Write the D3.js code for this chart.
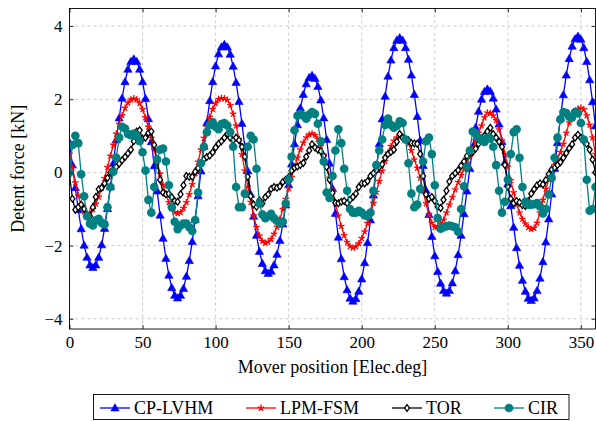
<!DOCTYPE html>
<html><head><meta charset="utf-8">
<script src="https://cdn.jsdelivr.net/npm/d3@7"></script>
<style>
body{margin:0;background:#fff}
svg text{font-family:"Liberation Serif","Times New Roman",serif !important;fill:#000}
</style>
</head><body>
<svg id="chart" width="596" height="421"></svg>
<script>
// ---------- data ----------
const positions = [0,2,4,6,8,10,12,14,16,18,20,22,24,26,28,30,32,34,36,38,40,42,44,46,48,50,52,54,56,58,60,62,64,66,68,70,72,74,76,78,80,82,84,86,88,90,92,94,96,98,100,102,104,106,108,110,112,114,116,118,120,122,124,126,128,130,132,134,136,138,140,142,144,146,148,150,152,154,156,158,160,162,164,166,168,170,172,174,176,178,180,182,184,186,188,190,192,194,196,198,200,202,204,206,208,210,212,214,216,218,220,222,224,226,228,230,232,234,236,238,240,242,244,246,248,250,252,254,256,258,260,262,264,266,268,270,272,274,276,278,280,282,284,286,288,290,292,294,296,298,300,302,304,306,308,310,312,314,316,318,320,322,324,326,328,330,332,334,336,338,340,342,344,346,348,350,352,354,356,358,360];

const cpLvhm = [0.82,0.20,-0.42,-1.02,-1.54,-1.99,-2.32,-2.53,-2.60,-2.53,-2.32,-1.98,-1.53,-0.99,-0.39,0.25,0.89,1.49,2.03,2.48,2.82,3.03,3.10,3.03,2.82,2.48,2.02,1.47,0.84,0.18,-0.51,-1.17,-1.80,-2.35,-2.81,-3.15,-3.36,-3.43,-3.36,-3.17,-2.84,-2.41,-1.89,-1.29,-0.64,0.04,0.71,1.36,1.96,2.48,2.91,3.24,3.43,3.50,3.43,3.23,2.90,2.46,1.94,1.34,0.70,0.04,-0.60,-1.20,-1.72,-2.16,-2.49,-2.69,-2.76,-2.70,-2.53,-2.24,-1.86,-1.41,-0.89,-0.34,0.23,0.78,1.30,1.76,2.13,2.42,2.59,2.65,2.57,2.35,1.98,1.49,0.90,0.25,-0.44,-1.12,-1.77,-2.36,-2.85,-3.21,-3.44,-3.52,-3.45,-3.25,-2.91,-2.47,-1.92,-1.30,-0.62,0.08,0.78,1.46,2.08,2.63,3.07,3.41,3.61,3.68,3.61,3.41,3.09,2.66,2.13,1.53,0.87,0.19,-0.49,-1.15,-1.75,-2.28,-2.71,-3.03,-3.23,-3.30,-3.23,-3.02,-2.69,-2.25,-1.72,-1.13,-0.51,0.11,0.70,1.23,1.67,2.00,2.21,2.28,2.22,2.03,1.73,1.32,0.84,0.28,-0.31,-0.91,-1.50,-2.06,-2.54,-2.95,-3.25,-3.44,-3.50,-3.43,-3.23,-2.89,-2.44,-1.90,-1.27,-0.59,0.11,0.81,1.49,2.12,2.66,3.11,3.45,3.65,3.72,3.64,3.41,3.03,2.53,1.93,1.27];

const lpmFsm = [0.50,0.12,-0.28,-0.63,-0.90,-1.07,-1.13,-1.10,-1.01,-0.86,-0.67,-0.43,-0.16,0.14,0.45,0.75,1.05,1.32,1.56,1.76,1.90,1.99,2.02,1.99,1.89,1.72,1.50,1.24,0.94,0.62,0.28,-0.04,-0.34,-0.60,-0.82,-0.99,-1.09,-1.12,-1.09,-0.98,-0.82,-0.60,-0.33,-0.03,0.29,0.62,0.94,1.24,1.51,1.73,1.89,2.00,2.03,2.02,1.98,1.83,1.60,1.28,0.91,0.49,0.05,-0.39,-0.81,-1.18,-1.50,-1.73,-1.88,-1.93,-1.90,-1.82,-1.68,-1.49,-1.27,-1.01,-0.73,-0.44,-0.14,0.14,0.40,0.62,0.81,0.95,1.03,1.06,1.02,0.91,0.72,0.47,0.18,-0.15,-0.50,-0.85,-1.18,-1.47,-1.72,-1.91,-2.02,-2.06,-2.03,-1.94,-1.80,-1.62,-1.39,-1.12,-0.84,-0.54,-0.24,0.04,0.30,0.53,0.72,0.86,0.95,0.98,0.97,0.90,0.78,0.60,0.35,0.12,-0.15,-0.50,-0.85,-1.15,-1.38,-1.50,-1.47,-1.40,-1.30,-1.10,-0.88,-0.68,-0.47,-0.27,-0.08,0.08,0.25,0.42,0.63,0.87,1.08,1.28,1.50,1.63,1.62,1.55,1.42,1.17,0.87,0.50,0.15,-0.22,-0.55,-0.88,-1.10,-1.28,-1.40,-1.50,-1.55,-1.52,-1.38,-1.10,-0.75,-0.45,-0.20,0.02,0.20,0.36,0.55,0.78,1.08,1.36,1.52,1.65,1.74,1.76,1.72,1.55,1.30,0.95,0.50];

const tor = [-0.05,-0.72,-1.02,-0.95,-0.88,-1.00,-1.20,-1.20,-0.95,-0.67,-0.46,-0.42,-0.30,-0.15,0.00,0.08,0.15,0.24,0.33,0.42,0.52,0.62,0.85,1.12,1.15,0.92,0.95,1.08,1.12,0.75,0.30,-0.20,-0.55,-0.60,-0.58,-0.68,-0.78,-0.80,-0.60,-0.35,-0.10,-0.12,-0.12,0.02,0.12,0.25,0.36,0.42,0.46,0.55,0.68,0.78,0.85,0.95,1.05,0.95,0.88,0.95,0.88,0.70,0.43,-0.12,-0.65,-0.88,-0.94,-0.76,-0.85,-0.68,-0.60,-0.45,-0.40,-0.42,-0.38,-0.26,-0.20,-0.13,0.05,0.13,0.16,0.20,0.26,0.43,0.60,0.77,0.68,0.62,0.58,0.45,0.15,-0.20,-0.56,-0.83,-0.84,-0.80,-0.78,-0.84,-0.75,-0.67,-0.58,-0.40,-0.30,-0.30,-0.24,-0.10,-0.02,0.06,0.15,0.22,0.40,0.50,0.56,0.62,0.84,1.05,0.95,0.90,0.88,0.80,0.79,0.78,0.50,-0.10,-0.60,-0.72,-0.67,-0.78,-0.94,-0.97,-0.75,-0.50,-0.25,-0.10,-0.02,0.06,0.18,0.30,0.45,0.53,0.56,0.65,0.78,0.88,1.00,1.12,1.22,1.05,0.95,0.84,0.70,0.20,-0.39,-0.72,-0.84,-0.78,-0.82,-0.90,-0.92,-0.78,-0.58,-0.46,-0.35,-0.30,-0.33,-0.21,-0.05,0.08,0.13,0.20,0.28,0.40,0.53,0.66,0.77,0.95,1.03,0.95,0.85,0.78,0.62,0.35,0.00];

const cir = [0.00,0.75,1.00,0.80,-0.05,-0.65,-1.20,-1.40,-1.45,-1.31,-1.27,-1.38,-1.42,-0.95,-0.40,0.02,0.40,0.95,1.25,1.20,1.05,1.02,1.06,1.00,0.85,0.55,0.05,-0.75,-1.10,-0.40,0.35,0.62,0.65,0.30,-0.35,-0.95,-1.35,-1.55,-1.45,-1.40,-1.40,-1.50,-1.60,-1.30,-0.55,0.25,0.70,1.10,1.30,1.37,1.25,1.18,1.32,1.35,1.28,1.10,0.70,-0.40,-0.95,-0.95,-0.58,0.70,1.00,0.90,0.10,-0.85,-1.15,-1.25,-1.20,-1.13,-1.25,-1.33,-1.40,-1.35,-0.85,-0.20,0.43,1.15,1.55,1.60,1.55,1.47,1.58,1.65,1.60,1.33,0.85,0.30,-0.55,-0.70,-0.10,0.60,1.18,0.80,0.10,-0.50,-1.00,-1.10,-1.10,-1.05,-1.10,-1.17,-1.20,-1.10,-0.50,0.20,0.60,0.90,1.30,1.47,1.30,1.22,1.27,1.40,1.35,0.90,0.25,-0.58,-0.95,-0.88,-0.45,0.30,0.85,0.95,0.50,-0.35,-1.25,-1.54,-1.50,-1.47,-1.45,-1.47,-1.50,-1.62,-1.00,-0.38,0.15,0.60,1.12,1.07,0.95,0.87,0.83,0.95,0.92,0.70,0.20,-0.50,-1.10,-0.80,-0.20,0.50,1.10,1.18,0.40,-0.40,-0.80,-0.88,-0.88,-0.87,-0.84,-0.93,-1.12,-1.00,-0.60,-0.15,0.40,0.95,1.45,1.65,1.62,1.52,1.50,1.65,1.62,1.35,0.90,-0.20,-1.05,-1.00,-0.40];

const seriesNames = ["CP-LVHM", "LPM-FSM", "TOR", "CIR"];
const xTicks = [0, 50, 100, 150, 200, 250, 300, 350];
const yTicks = [-4, -2, 0, 2, 4];
const xLabel = "Mover position [Elec.deg]";
const yLabel = "Detent force [kN]";

// ---------- chart ----------
const FONT = "'Liberation Serif', 'Times New Roman', serif";
const svg = d3.select("#chart");
const L = 69.5, R = 595.5, T = 8.5, B = 329;
const x = d3.scaleLinear().domain([0, 360]).range([L, R]);
const y = d3.scaleLinear().domain([-4.28, 4.48]).range([B, T]);

// grid
const grid = svg.append("g");
grid.selectAll(".gx").data(xTicks).join("line")
  .attr("x1", d => x(d)).attr("x2", d => x(d)).attr("y1", T).attr("y2", B)
  .attr("stroke", "#c4c4c4").attr("stroke-width", 0.9).attr("stroke-dasharray", "3,3");
grid.selectAll(".gy").data(yTicks).join("line")
  .attr("y1", d => y(d)).attr("y2", d => y(d)).attr("x1", L).attr("x2", R)
  .attr("stroke", "#c4c4c4").attr("stroke-width", 0.9).attr("stroke-dasharray", "3,3");

svg.append("clipPath").attr("id", "clip").append("rect")
  .attr("x", L).attr("y", T).attr("width", R - L).attr("height", B - T);

const styles = [
  {color: "#0000ff", mark: "tri"},
  {color: "#ff0000", mark: "star"},
  {color: "#000000", mark: "diamond"},
  {color: "#008080", mark: "circle"}
];
const allSeries = [cpLvhm, lpmFsm, tor, cir];

function drawMark(g, type, color, cx, cy) {
  if (type === "tri") {
    g.append("path").attr("d", d3.symbol(d3.symbolTriangle, 30)())
      .attr("transform", `translate(${cx},${cy + 0.6})`).attr("fill", color).attr("stroke", color).attr("stroke-width", 0.6);
  } else if (type === "star") {
    let p = "";
    for (let k = 0; k < 5; k++) {
      const a = -Math.PI / 2 + k * 2 * Math.PI / 5;
      p += `M0,0L${(3.4 * Math.cos(a)).toFixed(2)},${(3.4 * Math.sin(a)).toFixed(2)}`;
    }
    g.append("path").attr("d", p).attr("transform", `translate(${cx},${cy})`)
      .attr("stroke", color).attr("stroke-width", 1.3).attr("fill", "none");
  } else if (type === "diamond") {
    g.append("path").attr("d", "M0,-3.4L2.5,0L0,3.4L-2.5,0Z").attr("transform", `translate(${cx},${cy})`)
      .attr("fill", "#fff").attr("stroke", color).attr("stroke-width", 1.3);
  } else {
    g.append("circle").attr("cx", cx).attr("cy", cy).attr("r", 4.3).attr("fill", color);
  }
}

const plot = svg.append("g").attr("clip-path", "url(#clip)");
allSeries.forEach((vals, si) => {
  const st = styles[si];
  const pts = positions.map((p, i) => [p, vals[i]]);
  const g = plot.append("g");
  g.append("path").datum(pts)
    .attr("d", d3.line().x(d => x(d[0])).y(d => y(d[1])))
    .attr("fill", "none").attr("stroke", st.color).attr("stroke-width", 1.3);
  pts.forEach(d => drawMark(g, st.mark, st.color, x(d[0]), y(d[1])));
});

// frame
svg.append("rect").attr("x", L).attr("y", T).attr("width", R - L).attr("height", B - T)
  .attr("fill", "none").attr("stroke", "#000").attr("stroke-width", 0.9);

// axes (inward ticks)
const axB = svg.append("g").attr("transform", `translate(0,${B})`)
  .call(d3.axisBottom(x).tickValues(xTicks).tickSize(-4).tickPadding(7).tickFormat(d3.format("d")));
const axT = svg.append("g").attr("transform", `translate(0,${T})`)
  .call(d3.axisTop(x).tickValues(xTicks).tickSize(-4).tickFormat(""));
const axL = svg.append("g").attr("transform", `translate(${L},0)`)
  .call(d3.axisLeft(y).tickValues(yTicks).tickSize(-4).tickPadding(7).tickFormat(d => d < 0 ? "\u2212" + Math.abs(d) : d));
const axR = svg.append("g").attr("transform", `translate(${R},0)`)
  .call(d3.axisRight(y).tickValues(yTicks).tickSize(-4).tickFormat(""));
[axB, axT, axL, axR].forEach(a => {
  a.attr("font-family", null).attr("font-size", null);
  a.select(".domain").remove();
  a.selectAll(".tick line").attr("stroke", "#000").attr("stroke-width", 0.8);
  a.selectAll("text").style("font-family", FONT).style("font-size", "17px").attr("fill", "#000");
});

// axis labels
svg.append("text").attr("x", (L + R) / 2).attr("y", 373).attr("text-anchor", "middle")
  .style("font-family", FONT).style("font-size", "18px").text(xLabel);
svg.append("text").attr("transform", `translate(24,${(T + B) / 2}) rotate(-90)`)
  .attr("text-anchor", "middle").style("font-family", FONT).style("font-size", "18px").text(yLabel);

// legend
const lg = svg.append("g");
lg.append("rect").attr("x", 93.5).attr("y", 394.5).attr("width", 475.5).attr("height", 25)
  .attr("fill", "#fff").attr("stroke", "#000").attr("stroke-width", 0.9);
const legX = [100, 246, 392, 494];
seriesNames.forEach((name, i) => {
  const st = styles[i];
  const x0 = legX[i], cy = 408;
  lg.append("line").attr("x1", x0).attr("x2", x0 + 30).attr("y1", cy).attr("y2", cy)
    .attr("stroke", st.color).attr("stroke-width", 1.3);
  drawMark(lg, st.mark, st.color, x0 + 15, cy);
  lg.append("text").attr("x", x0 + 34).attr("y", cy + 6)
    .style("font-family", FONT).style("font-size", "18px").text(name);
});
</script>
</body></html>
